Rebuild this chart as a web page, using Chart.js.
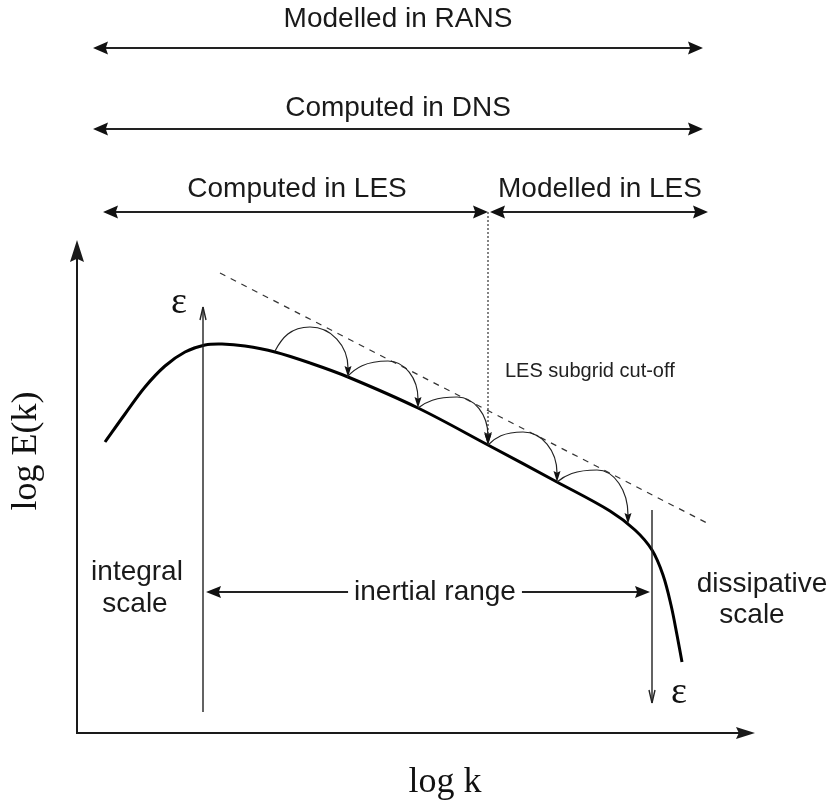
<!DOCTYPE html>
<html>
<head>
<meta charset="utf-8">
<script src="https://cdn.jsdelivr.net/npm/chart.js@4/dist/chart.umd.min.js"></script>
<style>
  html, body { margin: 0; padding: 0; background: #ffffff; }
  #wrap { width: 831px; height: 806px; position: relative; }
</style>
</head>
<body>
<div id="wrap"><canvas id="c"></canvas></div>
<script>
// ---- Data (chart units: x = log k, y = log E(k); origin at the axes corner) ----
const spectrumLogK = [0.28, 0.48, 0.68, 0.88, 1.08, 1.28, 1.45, 1.68, 1.98, 2.33, 2.71, 3.41, 4.11, 4.80, 5.33, 5.58, 5.75, 5.86, 5.94, 6.00, 6.05];
const spectrumLogE = [2.91, 3.19, 3.46, 3.67, 3.81, 3.88, 3.89, 3.87, 3.81, 3.70, 3.56, 3.25, 2.88, 2.51, 2.22, 2.03, 1.83, 1.58, 1.28, 0.98, 0.71];

// -5/3 reference line (dashed)
const slopeLineK = [1.43, 6.30];
const slopeLineE = [4.60, 2.10];

// energy cascade arcs: start, top, end
const arcStartK = [1.98, 2.70, 3.41, 4.11, 4.80];
const arcStartE = [3.82, 3.56, 3.25, 2.88, 2.51];
const arcTopK   = [2.33, 3.11, 3.80, 4.46, 5.20];
const arcTopE   = [4.06, 3.72, 3.36, 3.01, 2.63];
const arcEndK   = [2.71, 3.41, 4.11, 4.80, 5.51];
const arcEndE   = [3.56, 3.25, 2.88, 2.51, 2.09];

// range bars at the top
const rangeLabels = ["Modelled in RANS", "Computed in DNS", "Computed in LES", "Modelled in LES"];
const rangeFromK  = [0.16, 0.16, 0.26, 4.13];
const rangeToK    = [6.26, 6.26, 4.11, 6.31];
const rangeLevel  = [6.85, 6.04, 5.21, 5.21];
const rangeLabelK = [3.21, 3.21, 2.20, 5.23];
const rangeLabelE = [7.06, 6.17, 5.36, 5.36];

// LES cut-off
const cutoffK = 4.11;
const cutoffTopE = 5.21;
const cutoffBottomE = 2.88;

// energy injection / dissipation arrows
const injectK = 1.26, injectFromE = 0.21, injectToE = 4.26;
const dissipK = 5.75, dissipFromE = 2.23, dissipToE = 0.30;

// inertial range arrow
const inertialFromK = 1.29, inertialToK = 5.73, inertialE = 1.41;

// axes extents
const axisTopE = 4.93;
const axisRightK = 6.78;

// scale extents
const kMin = -0.77, kMax = 7.54, eMin = -0.73, eMax = 7.33;

const SANS = '"Liberation Sans", Arial, sans-serif';
const SERIF = '"Liberation Serif", "Times New Roman", serif';

function arrowHead(ctx, tx, ty, ang, len, half, filled) {
  ctx.save();
  ctx.translate(tx, ty);
  ctx.rotate(ang);
  ctx.beginPath();
  ctx.moveTo(0, 0);
  ctx.lineTo(-len, -half);
  if (filled) {
    ctx.lineTo(-len * 0.85, 0);
    ctx.lineTo(-len, half);
    ctx.closePath();
    ctx.fill();
  } else {
    ctx.moveTo(0, 0);
    ctx.lineTo(-len, half);
    ctx.stroke();
  }
  ctx.restore();
}

const schematic = {
  id: 'schematic',
  afterDatasetsDraw(chart) {
    const ctx = chart.ctx;
    const X = v => chart.scales.x.getPixelForValue(v);
    const Y = v => chart.scales.y.getPixelForValue(v);
    ctx.save();
    ctx.lineCap = 'butt';

    // axes
    ctx.strokeStyle = '#1a1a1a';
    ctx.fillStyle = '#1a1a1a';
    ctx.lineWidth = 2;
    ctx.beginPath();
    ctx.moveTo(X(0), Y(axisTopE) + 10);
    ctx.lineTo(X(0), Y(0));
    ctx.lineTo(X(axisRightK) - 10, Y(0));
    ctx.stroke();
    arrowHead(ctx, X(0), Y(axisTopE), -Math.PI / 2, 22, 7, true);
    arrowHead(ctx, X(axisRightK), Y(0), 0, 19, 6, true);

    // axis titles
    ctx.fillStyle = '#111';
    ctx.font = '36px ' + SERIF;
    ctx.textAlign = 'center';
    ctx.textBaseline = 'alphabetic';
    ctx.fillText('log k', X(3.68), Y(-0.59));
    ctx.save();
    ctx.translate(X(-0.41), Y(2.82));
    ctx.rotate(-Math.PI / 2);
    ctx.fillText('log E(k)', 0, 0);
    ctx.restore();

    // range bars
    ctx.strokeStyle = '#222';
    ctx.fillStyle = '#111';
    ctx.lineWidth = 2.2;
    for (let i = 0; i < rangeLabels.length; i++) {
      const y = Y(rangeLevel[i]);
      const x0 = X(rangeFromK[i]), x1 = X(rangeToK[i]);
      ctx.beginPath();
      ctx.moveTo(x0 + 8, y);
      ctx.lineTo(x1 - 8, y);
      ctx.stroke();
      arrowHead(ctx, x0, y, Math.PI, 15, 6.5, true);
      arrowHead(ctx, x1, y, 0, 15, 6.5, true);
    }
    ctx.font = '28px ' + SANS;
    ctx.fillStyle = '#1a1a1a';
    ctx.textAlign = 'center';
    for (let i = 0; i < rangeLabels.length; i++) {
      ctx.fillText(rangeLabels[i], X(rangeLabelK[i]), Y(rangeLabelE[i]));
    }

    // LES cut-off dotted line
    ctx.strokeStyle = '#333';
    ctx.fillStyle = '#222';
    ctx.lineWidth = 1.2;
    ctx.setLineDash([2, 2]);
    ctx.beginPath();
    ctx.moveTo(X(cutoffK), Y(cutoffTopE));
    ctx.lineTo(X(cutoffK), Y(cutoffBottomE) - 8);
    ctx.stroke();
    ctx.setLineDash([]);
    arrowHead(ctx, X(cutoffK), Y(cutoffBottomE), Math.PI / 2, 13, 4, true);
    ctx.font = '20px ' + SANS;
    ctx.textAlign = 'left';
    ctx.fillStyle = '#222';
    ctx.fillText('LES subgrid cut-off', X(4.28), Y(3.56));

    // cascade arcs
    ctx.strokeStyle = '#222';
    ctx.fillStyle = '#111';
    ctx.lineWidth = 1.2;
    const k = 0.55;
    for (let i = 0; i < arcStartK.length; i++) {
      const sx = X(arcStartK[i]), sy = Y(arcStartE[i]);
      const tx = X(arcTopK[i]), ty = Y(arcTopE[i]);
      const ex = X(arcEndK[i]), ey = Y(arcEndE[i]) - 9;
      ctx.beginPath();
      ctx.moveTo(sx, sy);
      ctx.bezierCurveTo(sx + (tx - sx) * 0.2, sy - (sy - ty) * k, tx - (tx - sx) * k, ty, tx, ty);
      ctx.bezierCurveTo(tx + (ex - tx) * k, ty, ex, ey - (ey - ty) * k, ex, ey);
      ctx.stroke();
      arrowHead(ctx, ex, Y(arcEndE[i]), Math.PI / 2, 11, 3.5, true);
    }

    // injection / dissipation arrows
    ctx.strokeStyle = '#222';
    ctx.lineWidth = 1.4;
    ctx.beginPath();
    ctx.moveTo(X(injectK), Y(injectFromE));
    ctx.lineTo(X(injectK), Y(injectToE));
    ctx.moveTo(X(dissipK), Y(dissipFromE));
    ctx.lineTo(X(dissipK), Y(dissipToE));
    ctx.stroke();
    arrowHead(ctx, X(injectK), Y(injectToE), -Math.PI / 2, 13, 3, false);
    arrowHead(ctx, X(dissipK), Y(dissipToE), Math.PI / 2, 13, 3, false);
    ctx.font = '38px ' + SERIF;
    ctx.textAlign = 'center';
    ctx.textBaseline = 'middle';
    ctx.fillStyle = '#111';
    ctx.fillText('ε', X(1.02), Y(4.30));
    ctx.fillText('ε', X(6.02), Y(0.40));

    // inertial range arrow
    ctx.font = '28px ' + SANS;
    ctx.textBaseline = 'middle';
    const label = 'inertial range';
    const cx = X(3.58), cy = Y(inertialE);
    const w = ctx.measureText(label).width;
    ctx.fillStyle = '#1a1a1a';
    ctx.fillText(label, cx, cy);
    ctx.strokeStyle = '#222';
    ctx.fillStyle = '#111';
    ctx.lineWidth = 2;
    ctx.beginPath();
    ctx.moveTo(X(inertialFromK) + 8, cy);
    ctx.lineTo(cx - w / 2 - 6, cy);
    ctx.moveTo(cx + w / 2 + 6, cy);
    ctx.lineTo(X(inertialToK) - 8, cy);
    ctx.stroke();
    arrowHead(ctx, X(inertialFromK), cy, Math.PI, 15, 6, true);
    arrowHead(ctx, X(inertialToK), cy, 0, 15, 6, true);

    // scale labels
    ctx.textBaseline = 'alphabetic';
    ctx.fillStyle = '#1a1a1a';
    ctx.fillText('integral', X(0.60), Y(1.53));
    ctx.fillText('scale', X(0.58), Y(1.21));
    ctx.fillText('dissipative', X(6.85), Y(1.41));
    ctx.fillText('scale', X(6.75), Y(1.10));

    ctx.restore();
  }
};

const spectrum = spectrumLogK.map((v, i) => ({ x: v, y: spectrumLogE[i] }));
const slopeLine = slopeLineK.map((v, i) => ({ x: v, y: slopeLineE[i] }));

new Chart(document.getElementById('c'), {
  type: 'line',
  data: {
    datasets: [
      {
        data: spectrum,
        borderColor: '#000',
        borderWidth: 3,
        pointRadius: 0,
        tension: 0.35,
        fill: false
      },
      {
        data: slopeLine,
        borderColor: '#333',
        borderWidth: 1.2,
        borderDash: [6, 6],
        pointRadius: 0,
        fill: false
      }
    ]
  },
  options: {
    responsive: true,
    maintainAspectRatio: false,
    animation: false,
    layout: { padding: 0 },
    plugins: { legend: { display: false }, tooltip: { enabled: false } },
    scales: {
      x: { type: 'linear', min: kMin, max: kMax, display: false },
      y: { type: 'linear', min: eMin, max: eMax, display: false }
    }
  },
  plugins: [schematic]
});
</script>
</body>
</html>
